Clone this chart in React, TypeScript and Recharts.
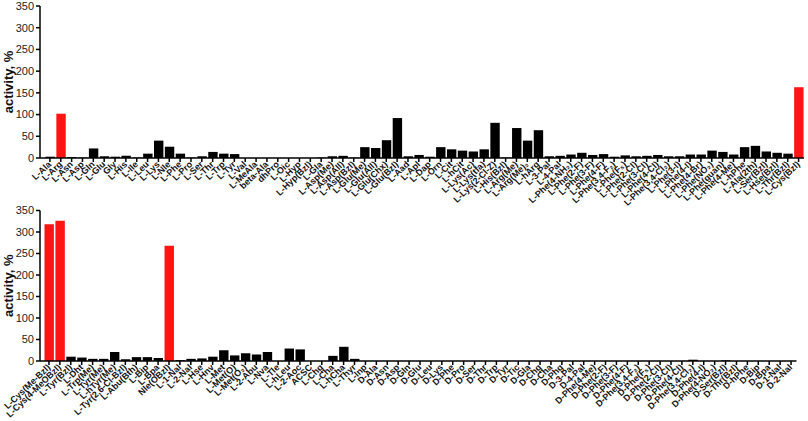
import React from "react";
import { Bar, BarChart, Cell, XAxis, YAxis } from "recharts";

// top panel: L-amino acids and side-chain variants
const topLabels = [
	"L-Ala", "L-Arg", "L-Asn", "L-Asp", "L-Gln", "L-Glu", "Gly", "L-His", "L-Ile", "L-Leu",
	"L-Lys", "L-Nle", "L-Phe", "L-Pro", "L-Ser", "L-Thr", "L-Trp", "L-Tyr", "L-Val", "L-MeAla",
	"beta-Ala", "dhPro", "L-Oic", "L-Hyp", "L-Hyp(Bzl)", "L-Gla", "L-Asp(Me)", "L-Asp(All)", "L-Asp(Bzl)", "L-Glu(Me)",
	"L-Glu(All)", "L-Glu(Chx)", "L-Glu(Bzl)", "L-Aad", "L-Apl", "L-Dap", "L-Orn", "L-Cit", "L-hCit", "L-Lys(Ac)",
	"L-Lys(tfa)", "L-Lys(2-Cl-Z)", "L-His(Bzl)", "L-Arg(Me)", "L-Arg(Me)₂", "L-hArg", "L-3-Pal", "L-4-Pal", "L-Phe(4-NH₂)", "L-Phe(2-F)",
	"L-Phe(3-F)", "L-Phe(4-F)", "L-Phe(3,4-F₂)", "L-Phe(F₅)", "L-Phe(2-Cl)", "L-Phe(3-Cl)", "L-Phe(4-Cl)", "L-Phe(3,4-Cl₂)", "L-Phe(3-I)", "L-Phe(4-I)",
	"L-Phe(4-Br)", "L-Phe(NO₂)", "L-Phe(guan)", "L-Phe(4-Me)", "L-hPhe", "L-Ala(2th)", "L-Ser(Bzl)", "L-Hse(Bzl)", "L-Thr(Bzl)", "L-Cys(Bzl)",
];
const topValues = [
	3, 102, 2, 1, 22, 4, 3, 5, 1, 10,
	40, 26, 10, 1, 4, 14, 10, 9, 0, 0,
	0, 0, 0, 0, 0, 1, 4, 5, 1, 25,
	23, 41, 92, 4, 7, 3, 25, 20, 17, 15,
	20, 81, 1, 69, 40, 64, 4, 5, 8, 12,
	7, 9, 3, 6, 4, 5, 7, 4, 4, 8,
	8, 17, 14, 8, 25, 28, 15, 12, 10, 163,
];

// bottom panel: more L-variants and D-amino acids
const bottomLabels = [
	"L-Cys(Me-Bzl)", "L-Cys(4-MeOBzl)", "L-Tyr(Bzl)", "L-Dht", "L-Trp(Me)", "L-Tyr(Me)", "L-hTyr(Me)", "L-Tyr(2,6-Cl-Bzl)", "L-Abu(Bth)", "L-Bip",
	"L-Bpa", "Nle(OBzl)", "L-1-Nal", "L-2-Nal", "L-Hse", "L-Hnv", "L-Met", "L-Met(O)", "L-Met(O₂)", "L-2-Abu",
	"L-Nva", "L-Tle", "L-hLeu", "L-2-Aoc", "ACSC", "L-Chg", "L-Cha", "L-hCha", "L-Thyr", "L-Inp",
	"D-Ala", "D-Asn", "D-Asp", "D-Gln", "D-Glu", "D-Leu", "D-Lys", "D-Phe", "D-Pro", "D-Ser",
	"D-Thr", "D-Trp", "D-Tyr", "D-Tic", "D-Gla", "D-Chg", "D-Cha", "D-Phg", "D-3-Pal", "D-4-Pal",
	"D-Phe(4-Me)", "D-Phe(2-F)", "D-Phe(3-F)", "D-Phe(4-F)", "D-Phe(3,4-F₂)", "D-Phe(F₅)", "D-Phe(2-Cl)", "D-Phe(3-Cl)", "D-Phe(4-Cl)", "D-Phe(3,4-Cl₂)",
	"D-Phe(4-I)", "D-Phe(4-NO₂)", "D-Ser(Bzl)", "D-Thr(Bzl)", "D-hPhe", "D-Bip", "D-Bpa", "D-1-Nal", "D-2-Nal",
];
const bottomValues = [
	318, 326, 10, 8, 5, 5, 21, 4, 9, 9,
	7, 268, 2, 5, 6, 10, 25, 13, 18, 15,
	21, 0, 29, 27, 0, 0, 12, 33, 5, 0,
	0, 0, 0, 0, 0, 0, 0, 0, 0, 0,
	0, 0, 0, 0, 0, 0, 0, 0, 0, 0,
	0, 0, 0, 0, 0, 0, 0, 0, 0, 3,
	0, 0, 1.5, 0, 0, 0, 0, 0, 0,
];

const yTicks = [0, 50, 100, 150, 200, 250, 300, 350];

const FONT = "'Liberation Sans', Arial, sans-serif";
const RED = "#ff1414";

const CatTick = ({ x, y, payload }: any) => (
	<g transform={`translate(${x},${y})`}>
		<text
			transform="rotate(-44)"
			textAnchor="end"
			dy="0.3em"
			fontSize={9}
			fontWeight="bold"
			fontFamily={FONT}
			fill="#111"
		>
			{payload.value}
		</text>
	</g>
);

const axisLabel = {
	content: ({ viewBox }: any) => {
		const cy = viewBox.y + viewBox.height / 2;
		return (
			<text
				x={8}
				y={cy}
				transform={`rotate(-90 8 ${cy})`}
				textAnchor="middle"
				dominantBaseline="central"
				fontSize={13}
				fontWeight="bold"
				fontFamily={FONT}
				fill="#111"
			>
				activity, %
			</text>
		);
	},
};

const Panel = ({ labels, values, height, margin, xHeight, padLeft }: any) => {
	const data = labels.map((name: string, i: number) => ({ name, value: values[i] }));
	return (
		<BarChart width={808} height={height} data={data} margin={margin} barSize={9.4}>
			<XAxis
				dataKey="name"
				interval={0}
				height={xHeight}
				padding={{ left: padLeft, right: 0 }}
				stroke="#000"
				strokeWidth={1.5}
				tickSize={4}
				tickMargin={1}
				tick={<CatTick />}
			/>
			<YAxis
				domain={[0, 350]}
				ticks={yTicks}
				interval={0}
				width={40}
				stroke="#000"
				strokeWidth={1.5}
				tickSize={4}
				tickMargin={2}
				tick={{ fontSize: 11, fill: "#222", fontFamily: FONT }}
				label={axisLabel}
			/>
			<Bar dataKey="value" isAnimationActive={false}>
				{data.map((d: any, i: number) => (
					<Cell key={i} fill={d.value >= 100 ? RED : "#000"} />
				))}
			</Bar>
		</BarChart>
	);
};

export default function App() {
	return (
		<div style={{ position: "absolute", left: 0, top: 0, width: 808, height: 421, background: "#fff", overflow: "hidden" }}>
			<style>{"svg { overflow: visible; }"}</style>
			<div style={{ position: "absolute", left: 0, top: 0 }}>
				<Panel
					labels={topLabels}
					values={topValues}
					height={210}
					margin={{ top: 6, right: 4, left: 0, bottom: 0 }}
					xHeight={52}
					padLeft={4.5}
				/>
			</div>
			<div style={{ position: "absolute", left: 0, top: 210 }}>
				<Panel
					labels={bottomLabels}
					values={bottomValues}
					height={211}
					margin={{ top: 0.5, right: 11.5, left: 0, bottom: 0 }}
					xHeight={60}
					padLeft={3.5}
				/>
			</div>
		</div>
	);
}
